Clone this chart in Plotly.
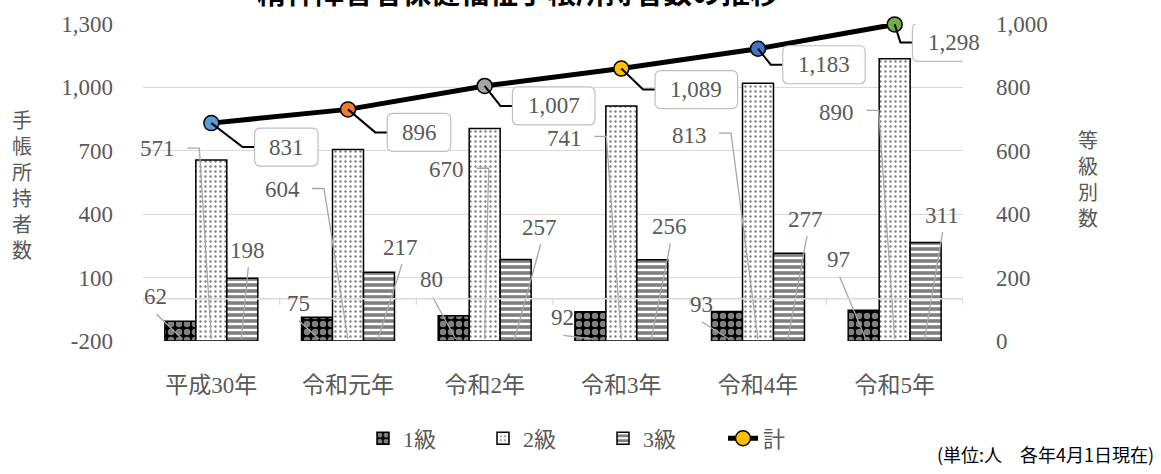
import plotly.graph_objects as go

# ---- data -------------------------------------------------------------
categories = ["平成30年", "令和元年", "令和2年", "令和3年", "令和4年", "令和5年"]
grade1 = [62, 75, 80, 92, 93, 97]
grade2 = [571, 604, 670, 741, 813, 890]
grade3 = [198, 217, 257, 256, 277, 311]
total = [831, 896, 1007, 1089, 1183, 1298]
left_ticks = [-200, 100, 400, 700, 1000, 1300]
right_ticks = [0, 200, 400, 600, 800, 1000]

# ---- label placement (pixel offsets) ----------------------------------
# bar labels: offset of the label centre from the top-centre of its bar (up = +)
g1_dx = [-25, -19, -22, -28, -26, -25]
g1_dy = [25, 14, 36, -6, 7, 51]
g2_dx = [-54, -66, -38, -57, -69, -58]
g2_dy = [11, -40, -41, -32, -52, -54]
g3_dx = [5, 22, 24, 17, 17, 16]
g3_dy = [28, 25, 32, 33, 34, 27]
# total labels: offset of the box centre from the marker (down = +)
tot_dx = [75, 71, 69, 75, 66, 59]
tot_dy = [24, 23, 20, 21, 16, 18]

# ---- styling ------------------------------------------------------------
SERIF = "Liberation Serif, Noto Sans CJK JP, serif"
GOTHIC = "Noto Sans CJK JP, sans-serif"
TEXT_GRAY = "#595959"
GRID = "#D9D9D9"
LEADER_GRAY = "#A6A6A6"
point_colors = ["#5B9BD5", "#ED7D31", "#A5A5A5", "#FFC000", "#4472C4", "#70AD47"]

W, H = 1161, 474
ML, MR, MT, MB = 143, 198, 19, 133
PW, PH = W - ML - MR, H - MT - MB
LEFT_RANGE = [-200, 1300]
RIGHT_RANGE = [0, 1000]
ky_right = PH / (RIGHT_RANGE[1] - RIGHT_RANGE[0])

BARGAP = 0.32
bar_w = (1 - BARGAP) / 3
offsets = [-bar_w, 0.0, bar_w]
xs = list(range(len(categories)))

fig = go.Figure()

patterns = [
    dict(shape=".", fgcolor="white", bgcolor="black", size=8, solidity=0.5),
    dict(shape=".", fgcolor="black", bgcolor="white", size=5, solidity=0.18),
    dict(shape="-", fgcolor="black", bgcolor="white", size=6, solidity=0.6),
]
series = [("1級", grade1), ("2級", grade2), ("3級", grade3)]
for (name, vals), pat in zip(series, patterns):
    fig.add_trace(go.Bar(
        x=xs, y=vals, name=name, yaxis="y",
        marker=dict(color="white", line=dict(color="black", width=1.5), pattern=pat),
        hoverinfo="skip",
    ))

# total line (left axis), drawn over the bars
fig.add_trace(go.Scatter(
    x=xs, y=total, yaxis="y2", mode="lines+markers", showlegend=False,
    line=dict(color="black", width=5), cliponaxis=False,
    marker=dict(size=15, color=point_colors, line=dict(color="black", width=1.5)),
    hoverinfo="skip",
))
# legend entry for the total line
fig.add_trace(go.Scatter(
    x=[None], y=[None], yaxis="y2", name="計", mode="lines+markers",
    line=dict(color="black", width=5),
    marker=dict(size=15, color="#FFC000", line=dict(color="black", width=1.5)),
))

annotations = []
shapes = []

# ---- bar value labels with leader lines --------------------------------
label_font = dict(family=SERIF, size=23, color=TEXT_GRAY)
for s, (vals, dxs, dys) in enumerate([(grade1, g1_dx, g1_dy),
                                       (grade2, g2_dx, g2_dy),
                                       (grade3, g3_dx, g3_dy)]):
    for i, v in enumerate(vals):
        bx = i + offsets[s]
        annotations.append(dict(
            x=bx, y=v, xref="x", yref="y", xshift=dxs[i], yshift=dys[i],
            text=str(v), showarrow=False, font=label_font,
        ))
        # leader in pixels, anchored at the bar's base
        lx, ly = dxs[i], v * ky_right + dys[i]
        if s == 1:
            hw = 6 * len(str(v)) + 12
            path = (f"M{lx + hw},{ly - 2} L{lx + hw + 12},{ly - 2} L0,2")
        elif s == 0:
            path = f"M{lx + 1},{ly - 18} L2,2"
        else:
            path = f"M{lx + 1},{ly - 18} L-1,2"
        shapes.append(dict(
            type="path", xref="x", yref="y", xsizemode="pixel", ysizemode="pixel",
            xanchor=bx, yanchor=0, path=path, layer="above",
            line=dict(color=LEADER_GRAY, width=1.3),
        ))


def rounded_rect(cx, cy, w, h, r):
    x0, x1 = cx - w / 2, cx + w / 2
    y0, y1 = cy - h / 2, cy + h / 2
    return (f"M{x0 + r},{y0} L{x1 - r},{y0} Q{x1},{y0} {x1},{y0 + r} "
            f"L{x1},{y1 - r} Q{x1},{y1} {x1 - r},{y1} L{x0 + r},{y1} "
            f"Q{x0},{y1} {x0},{y1 - r} L{x0},{y0 + r} Q{x0},{y0} {x0 + r},{y0} Z")


# ---- total labels: rounded boxes with elbow leaders ---------------------
for i, v in enumerate(total):
    txt = f"{v:,}"
    bw = 9.5 * len(txt) + 35
    bh = 38
    cx, cy = tot_dx[i], -tot_dy[i]
    left = cx - bw / 2
    shapes.append(dict(
        type="path", xref="x", yref="y2", xsizemode="pixel", ysizemode="pixel",
        xanchor=i, yanchor=v, path=f"M0,0 L{left - 12},{cy} L{left},{cy}",
        layer="above", line=dict(color="black", width=2),
    ))
    shapes.append(dict(
        type="path", xref="x", yref="y2", xsizemode="pixel", ysizemode="pixel",
        xanchor=i, yanchor=v, path=rounded_rect(cx, cy, bw, bh, 6),
        layer="above", fillcolor="white", line=dict(color="#BFBFBF", width=1.2),
    ))
    annotations.append(dict(
        x=i, y=v, xref="x", yref="y2", xshift=cx, yshift=cy,
        text=txt, showarrow=False, font=label_font,
    ))

# ---- category axis line at zero of the left axis -----------------------
shapes.append(dict(type="line", xref="paper", yref="y2", x0=0, x1=1, y0=0, y1=0,
                   layer="above", line=dict(color=GRID, width=1.3)))
for k in range(len(categories) + 1):
    b = k - 0.5
    shapes.append(dict(type="line", xref="x", yref="y2", ysizemode="pixel",
                       yanchor=0, x0=b, x1=b, y0=0, y1=-6, layer="above",
                       line=dict(color=GRID, width=1.3)))

# ---- titles and notes ----------------------------------------------------
def px_to_paper_x(px):
    return (px - ML) / PW


def px_to_paper_y(py):
    return (H - MB - py) / PH


annotations.append(dict(
    x=px_to_paper_x(518), y=1, xref="paper", yref="paper", yshift=33,
    text="<b>精神障害者保健福祉手帳所持者数の推移</b>", showarrow=False,
    font=dict(family=GOTHIC, size=29, color="black"),
    xanchor="center", yanchor="middle",
))
annotations.append(dict(
    x=px_to_paper_x(22), y=px_to_paper_y(182), xref="paper", yref="paper",
    xanchor="center", yanchor="middle",
    text="<br>".join("手帳所持者数"), showarrow=False,
    font=dict(family=GOTHIC, size=20, color=TEXT_GRAY),
))
annotations.append(dict(
    x=px_to_paper_x(1088), y=px_to_paper_y(176), xref="paper", yref="paper",
    xanchor="center", yanchor="middle",
    text="<br>".join("等級別数"), showarrow=False,
    font=dict(family=GOTHIC, size=20, color=TEXT_GRAY),
))
annotations.append(dict(
    x=px_to_paper_x(1156), y=px_to_paper_y(456), xref="paper", yref="paper",
    xanchor="right", yanchor="middle", text="(単位:人　各年4月1日現在)",
    showarrow=False, font=dict(family=GOTHIC, size=18, color="black"),
))

fig.update_layout(
    width=W, height=H,
    margin=dict(l=ML, r=MR, t=MT, b=MB, pad=0),
    paper_bgcolor="white", plot_bgcolor="white",
    barmode="group", bargap=BARGAP, bargroupgap=0,
    font=dict(family=SERIF, color=TEXT_GRAY),
    xaxis=dict(
        range=[-0.5, len(categories) - 0.5], tickvals=xs, ticktext=categories,
        showgrid=False, zeroline=False, showline=False, ticks="",
        tickfont=dict(family=SERIF, size=23, color=TEXT_GRAY), ticklabelstandoff=28,
    ),
    yaxis=dict(
        range=RIGHT_RANGE, side="right", tickvals=right_ticks,
        ticktext=[f"{t:,}" for t in right_ticks],
        showgrid=True, gridcolor=GRID, gridwidth=1.3, zeroline=False, showline=False,
        ticks="", tickfont=dict(family=SERIF, size=23, color=TEXT_GRAY),
        ticklabelstandoff=32,
    ),
    yaxis2=dict(
        range=LEFT_RANGE, side="left", overlaying="y", tickvals=left_ticks,
        ticktext=[f"{t:,}" for t in left_ticks],
        showgrid=False, zeroline=False, showline=False, ticks="",
        tickfont=dict(family=SERIF, size=23, color=TEXT_GRAY),
        ticklabelstandoff=29,
    ),
    legend=dict(
        orientation="h", x=px_to_paper_x(603), xanchor="center",
        y=px_to_paper_y(440), yanchor="middle",
        font=dict(family=SERIF, size=22, color=TEXT_GRAY),
        entrywidth=75, itemwidth=30, traceorder="normal",
    ),
    annotations=annotations,
    shapes=shapes,
    showlegend=True,
)

fig.write_html("out.html")
